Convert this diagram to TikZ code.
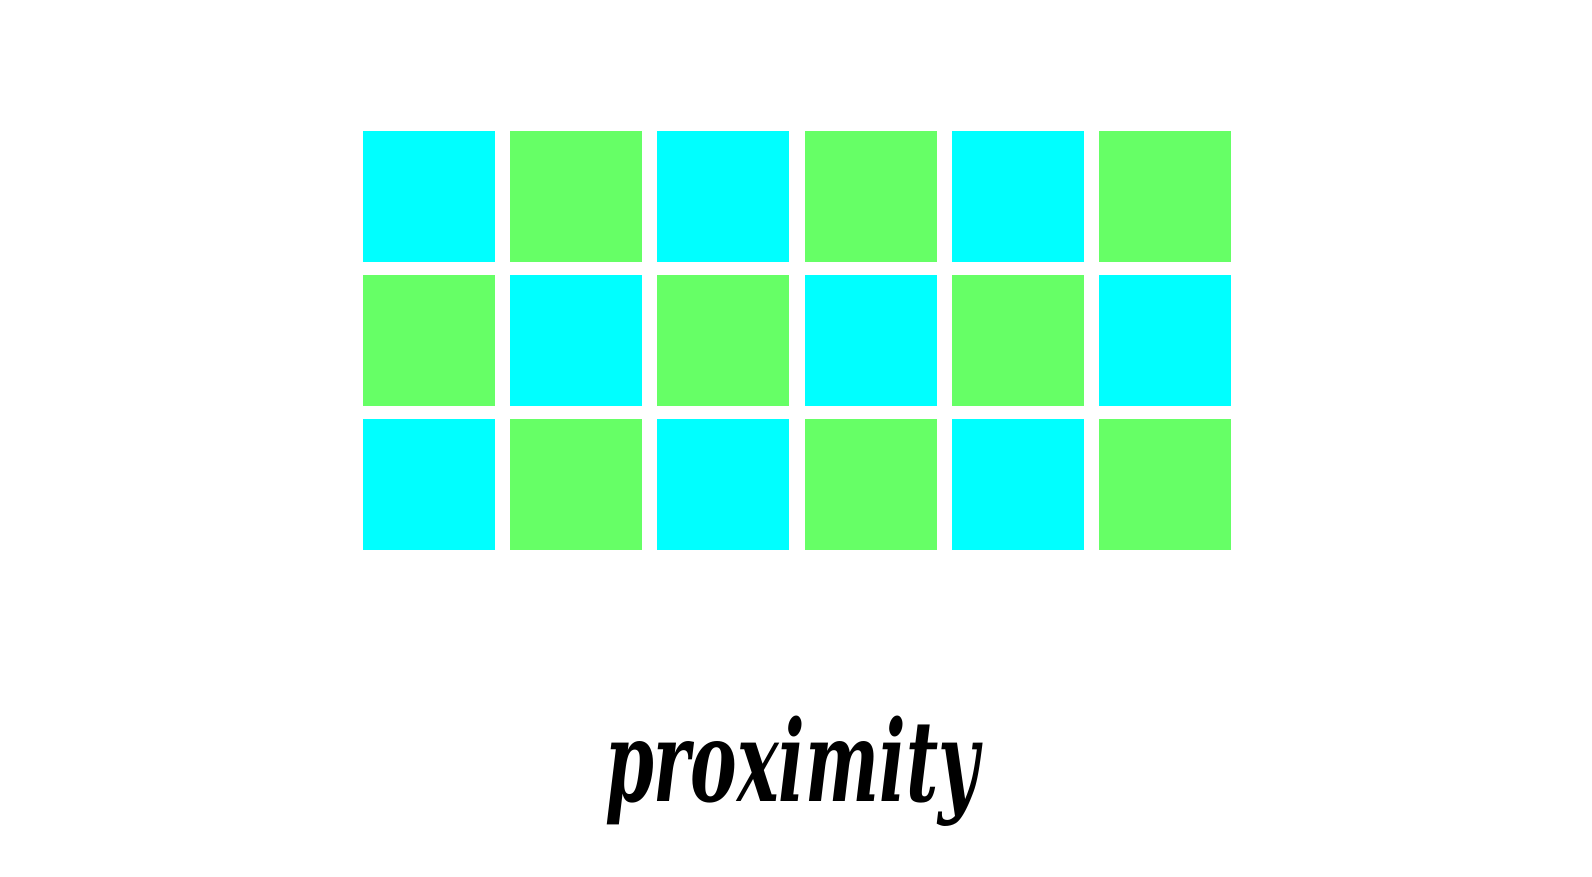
\documentclass[tikz,border=0pt]{standalone}
\usepackage{fontspec}
\usepackage{tikz}
\newfontfamily\titlefont{DejaVu Serif Condensed}
\definecolor{cellcyan}{HTML}{00FFFF}
\definecolor{cellgreen}{HTML}{66FF66}

\begin{document}
\begin{tikzpicture}[x=0.01cm,y=-0.01cm,
    cell/.style={anchor=north west,inner sep=0pt,minimum width=1.32cm,minimum height=1.31cm}]
  % 画布
  \useasboundingbox[fill=white] (0,0) rectangle (1592,876);
  % 方格
  \foreach \r in {0,1,2}{
    \foreach \c in {0,...,5}{
      \pgfmathtruncatemacro{\k}{mod(\r+\c,2)}
      \ifnum\k=0 \def\col{cellcyan}\else\def\col{cellgreen}\fi
      \node[cell,fill=\col] (c\r\c) at ({362+147.3*\c},{130.7+143.8*\r}) {};
    }
  }
  % 标题
  \node[anchor=base,font=\titlefont\fontsize{32}{36}\selectfont\bfseries\itshape]
    (title) at (792,801) {\scalebox{0.69}[1]{proximity}};
\end{tikzpicture}
\end{document}
